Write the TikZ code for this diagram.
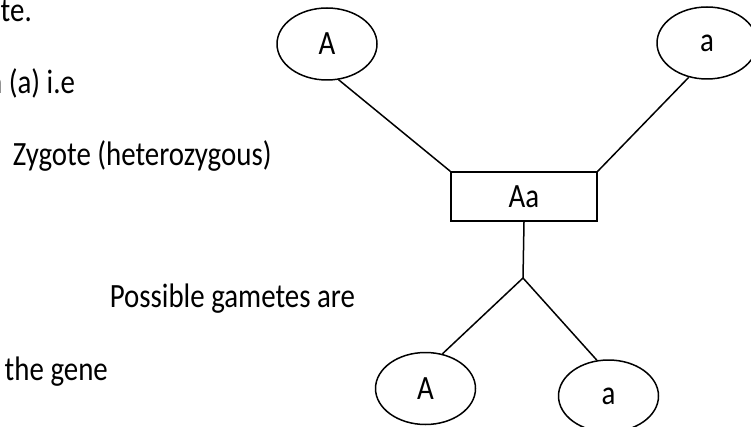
\documentclass[tikz,border=0pt]{standalone}
\usepackage{fontspec}
\setmainfont{Carlito}[FakeStretch=0.85]
\usetikzlibrary{shapes.geometric}
\begin{document}
\begin{tikzpicture}[x=1pt,y=-1pt,line width=1.5pt,
  gam/.style={ellipse,draw,minimum width=100pt,minimum height=72pt,inner sep=0pt,font=\fontsize{34}{40}\selectfont},
  zygbox/.style={rectangle,draw,minimum width=146pt,minimum height=49pt,inner sep=0pt,font=\fontsize{34}{40}\selectfont},
  txt/.style={anchor=base west,inner sep=0pt,font=\fontsize{34}{40}\selectfont}]
\useasboundingbox (0,0) rectangle (751,427);
\clip (0,0) rectangle (751,427);
\fill[white] (0,0) rectangle (751,427);
% text
\node[txt] (t1) at (0,22) {te.};
\node[txt] (t2) at (-13.7,94) {n (a) i.e};
\node[txt] (t3) at (12,166) {Zygote (heterozygous)};
\node[txt] (t4) at (109,307) {Possible gametes are};
\node[txt] (t5) at (4,380) {the gene};
% diagram
\node[gam] (pA) at (327,44) {A};
\node[gam] (pa) at (707,43) {a};
\node[zygbox] (zyg) at (524,196.5) {Aa};
\coordinate (J) at (523,278);
\node[gam] (gA) at (425.5,388.5) {A};
\node[gam] (ga) at (608.5,396) {a};
\draw (pA.-72) -- (zyg.north west);
\draw (pa.-118) -- (zyg.north east);
\draw (zyg.south) -- (J);
\draw (J) -- (gA.64);
\draw (J) -- (ga.108);
\end{tikzpicture}
\end{document}
